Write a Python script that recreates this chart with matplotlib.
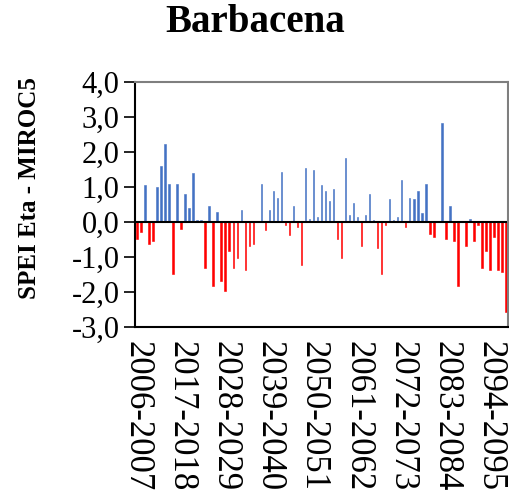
import matplotlib
matplotlib.use("Agg")
import matplotlib.pyplot as plt
import numpy as np

# SPEI values (one per period, 2006-2007 .. 2098-2099)
periods = ["%d-%d" % (y, y + 1) for y in range(2006, 2099)]
spei = [-0.49, -0.28, 1.05, -0.63, -0.53, 0.99, 1.60, 2.24, 1.10, -1.48,
        1.10, -0.20, 0.81, 0.41, 1.40, 0.06, 0.06, -1.32, 0.45, -1.83,
        0.30, -1.68, -1.97, -0.83, -1.32, -1.03, 0.35, -1.37, -0.69, -0.64,
        0.00, 1.10, -0.23, 0.35, 0.90, 0.70, 1.44, -0.09, -0.38, 0.45,
        -0.13, -1.23, 1.54, 0.10, 1.50, 0.15, 1.05, 0.90, 0.60, 0.94,
        -0.49, -1.03, 1.84, 0.20, 0.55, 0.15, -0.69, 0.20, 0.80, 0.06,
        -0.73, -1.48, -0.09, 0.65, 0.06, 0.15, 1.20, -0.13, 0.70, 0.65,
        0.90, 0.25, 1.10, -0.33, -0.43, 0.00, 2.84, -0.49, 0.45, -0.53,
        -1.83, 0.00, -0.69, 0.10, -0.53, -0.09, -1.32, -0.83, -1.37, -0.44,
        -1.37, -1.43, -2.56]
yticks = [-3, -2, -1, 0, 1, 2, 3, 4]

plt.rcParams["font.family"] = ["Liberation Serif", "DejaVu Serif"]

values = np.array(spei)
x = np.arange(len(values))
colors = ["#4472C4" if v >= 0 else "#FF0000" for v in values]

fig = plt.figure(figsize=(5.10, 4.97), dpi=100)
ax = fig.add_axes([135 / 510, 1 - 327 / 497, 373 / 510, 245 / 497])

ax.bar(x, values, width=0.38, color=colors, edgecolor=colors, linewidth=0.4)
ax.axhline(0, color="black", linewidth=1.5)

ax.set_xlim(-0.5, len(values) - 0.5)
ax.set_ylim(-3, 4)
ax.set_yticks(yticks)
ax.set_yticklabels([("%.1f" % t).replace(".", ",") for t in yticks])
ax.tick_params(axis="y", labelsize=22, length=8, width=1.2, pad=3)

ax.set_xticks(x[::11])
ax.set_xticklabels(periods[::11], rotation=270, fontsize=25, ha="center")
ax.tick_params(axis="x", length=0, pad=10)

ax.spines["left"].set_color("black")
ax.spines["bottom"].set_color("black")
ax.spines["top"].set_color("#7f7f7f")
ax.spines["right"].set_color("#7f7f7f")
for s in ax.spines.values():
    s.set_linewidth(1.5)

fig.text(255 / 510, 1 - 22 / 497, "Barbacena", ha="center", va="center",
         fontsize=28, fontweight="bold")
fig.text(30 / 510, 1 - 188 / 497, "SPEI Eta - MIROC5", ha="center", va="center",
         rotation=90, fontsize=18, fontweight="bold")

fig.savefig("out.png", dpi=100)
